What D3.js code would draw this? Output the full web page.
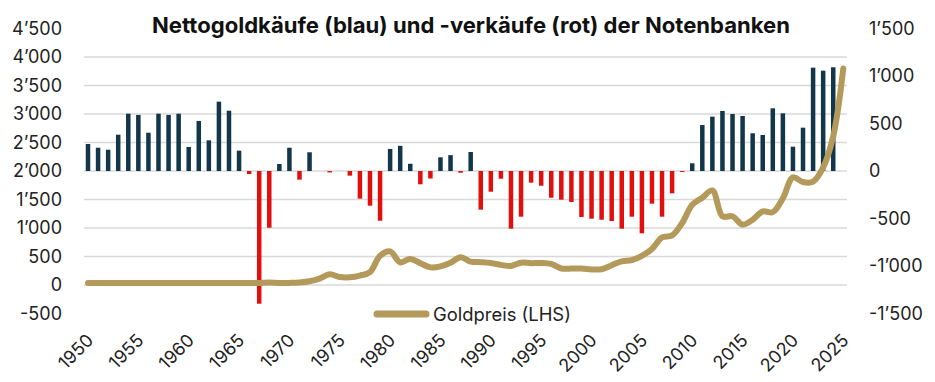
<!DOCTYPE html>
<html>
<head>
<meta charset="utf-8">
<script src="https://cdn.jsdelivr.net/npm/d3@7"></script>
<style>
  html, body { margin: 0; padding: 0; background: #ffffff; }
  svg { display: block; }
  text { font-family: Inter, "Open Sans", sans-serif; }
</style>
</head>
<body>
<div id="chart"></div>
<script>
// ---------- data ----------
const startYear = 1950;
// Net central-bank gold purchases (+) / sales (-) in tonnes, 1950–2024 (right axis)
const netPurchases = [
  284, 245, 224, 382, 603, 590, 403, 603, 590, 603,
  253, 527, 323, 730, 635, 214, -32, -1397, -597, 74,
  245, -91, 197, 0, -15, 0, -49, -291, -365, -523,
  232, 265, 76, -140, -79, 144, 167, -18, 200, -407,
  -218, -81, -607, -481, -123, -155, -281, -302, -326, -484,
  -502, -513, -527, -607, -481, -656, -344, -481, -235, -10,
  81, 484, 572, 632, 600, 579, 397, 379, 660, 607,
  256, 456, 1088, 1056, 1092
];
// Gold price (USD/oz, year end) 1950–2025 (left axis)
const goldPrice = [
  35, 35, 35, 35, 35, 35, 35, 35, 35, 35,
  35, 35, 35, 35, 35, 35, 35, 35, 42, 35,
  37, 44, 65, 112, 187, 140, 135, 165, 226, 512,
  590, 398, 457, 382, 309, 327, 391, 487, 410, 401,
  386, 353, 333, 392, 383, 387, 369, 290, 288, 290,
  273, 277, 347, 416, 436, 513, 632, 834, 870, 1088,
  1406, 1531, 1658, 1205, 1206, 1060, 1146, 1291, 1279, 1523,
  1888, 1806, 1812, 2062, 2609, 3800
];
const leftTicks = [-500, 0, 500, 1000, 1500, 2000, 2500, 3000, 3500, 4000, 4500];
const gridTicks = [0, 500, 1000, 1500, 2000, 2500, 3000, 3500, 4000];
const rightTicks = [-1500, -1000, -500, 0, 500, 1000, 1500];
const xTicks = [1950, 1955, 1960, 1965, 1970, 1975, 1980, 1985, 1990, 1995, 2000, 2005, 2010, 2015, 2020, 2025];
const titleText = "Nettogoldkäufe (blau) und -verkäufe (rot) der Notenbanken";
const legendLabel = "Goldpreis (LHS)";

// ---------- setup ----------
const W = 935, H = 382;
const COL_BLUE = "#12374a", COL_RED = "#e0100f", COL_GOLD = "#b39a5b", COL_GRID = "#d9d9d9";

const svg = d3.select("#chart").append("svg").attr("width", W).attr("height", H);

const x = d3.scaleLinear().domain([1950, 2025]).range([88, 843.3]);
const yL = d3.scaleLinear().domain([-500, 4500]).range([313.5, 28.5]);
const yR = d3.scaleLinear().domain([-1500, 1500]).range([313.5, 28.5]);

const loc = d3.formatLocale({ decimal: ".", thousands: "\u2019", grouping: [3], currency: ["", ""], minus: "-" });
const fmt = loc.format(",d");

// gridlines
svg.append("g").selectAll("line").data(gridTicks).join("line")
  .attr("x1", 84).attr("x2", 847)
  .attr("y1", d => yL(d)).attr("y2", d => yL(d))
  .attr("stroke", COL_GRID).attr("stroke-width", 1.5);

// bars
const barData = netPurchases.map((v, i) => ({ year: startYear + i, v }));
const bw = 4.5;
svg.append("g").selectAll("rect").data(barData).join("rect")
  .attr("x", d => x(d.year) - bw / 2)
  .attr("width", bw)
  .attr("y", d => Math.min(yR(d.v), yR(0)))
  .attr("height", d => Math.abs(yR(d.v) - yR(0)))
  .attr("fill", d => d.v >= 0 ? COL_BLUE : COL_RED);

// gold line
const lineData = goldPrice.map((v, i) => ({ year: startYear + i, v }));
const line = d3.line().x(d => x(d.year)).y(d => yL(d.v)).curve(d3.curveCatmullRom.alpha(0.5));
svg.append("path").datum(lineData)
  .attr("d", line)
  .attr("fill", "none").attr("stroke", COL_GOLD).attr("stroke-width", 6)
  .attr("stroke-linejoin", "round").attr("stroke-linecap", "round");

// left axis
const gL = svg.append("g").attr("transform", "translate(62,0)")
  .call(d3.axisLeft(yL).tickValues(leftTicks).tickSize(0).tickPadding(0).tickFormat(fmt));
gL.select(".domain").remove();
gL.selectAll("text").attr("font-size", 18).attr("fill", "#222").style("font-family", "Inter, sans-serif");

// right axis
const gR = svg.append("g").attr("transform", "translate(869,0)")
  .call(d3.axisRight(yR).tickValues(rightTicks).tickSize(0).tickPadding(0).tickFormat(fmt));
gR.select(".domain").remove();
gR.selectAll("text").attr("font-size", 18).attr("fill", "#222").style("font-family", "Inter, sans-serif");

// x axis
const gX = svg.append("g").attr("transform", "translate(0,313.5)")
  .call(d3.axisBottom(x).tickValues(xTicks).tickSize(0).tickFormat(d3.format("d")));
gX.select(".domain").remove();
gX.selectAll("text")
  .attr("x", 0).attr("y", 0).attr("dy", 0)
  .attr("text-anchor", "end")
  .attr("transform", "translate(6,28) rotate(-45)")
  .attr("font-size", 18).attr("fill", "#222").style("font-family", "Inter, sans-serif");

// title
const title = svg.append("text")
  .attr("x", 471).attr("y", 32.5)
  .attr("text-anchor", "middle")
  .attr("font-size", 20).attr("font-weight", 700).attr("fill", "#111")
  .text(titleText);
const tw = title.node().getComputedTextLength();
title.attr("font-size", 20 * 638 / tw);

// legend
svg.append("line")
  .attr("x1", 377).attr("x2", 426).attr("y1", 314).attr("y2", 314)
  .attr("stroke", COL_GOLD).attr("stroke-width", 7).attr("stroke-linecap", "round");
const lg = svg.append("text")
  .attr("x", 433).attr("y", 320.5)
  .attr("font-size", 18).attr("fill", "#222")
  .text(legendLabel);
const lw = lg.node().getComputedTextLength();
lg.attr("font-size", 18 * 138 / lw);
</script>
</body>
</html>
